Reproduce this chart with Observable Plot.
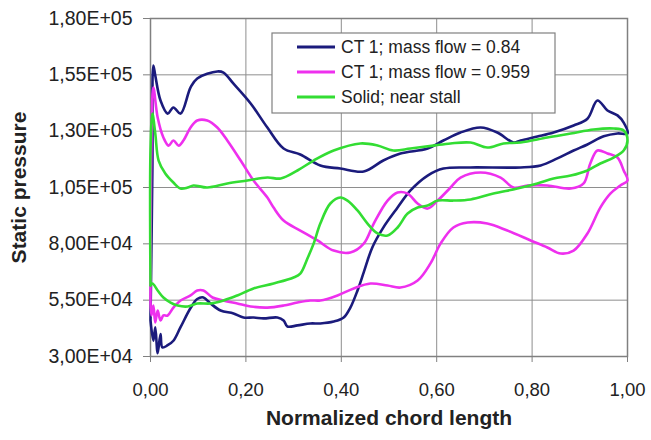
<!DOCTYPE html>
<html><head><meta charset="utf-8">
<script src="https://cdn.jsdelivr.net/npm/d3@7"></script>
<script src="https://cdn.jsdelivr.net/npm/@observablehq/plot@0.6"></script>
<style>body{margin:0;background:#fff;}</style>
</head><body><div id="chart"></div>
<script>
const seriesNames = ["CT 1; mass flow = 0.84", "CT 1; mass flow = 0.959", "Solid; near stall"];
const seriesColors = ["#1b1b7c", "#ee30ee", "#33dd33"];
const xTicks = [0, 0.2, 0.4, 0.6, 0.8, 1.0];
const yTicks = [30000, 55000, 80000, 105000, 130000, 155000, 180000];
const xTitle = "Normalized chord length";
const yTitle = "Static pressure";

// closed loops: lower surface LE->TE, then upper surface TE->LE
const ct084 = [
  [0,46000],[0.006,37000],[0.010,43000],[0.015,31500],[0.021,40000],[0.025,34000],[0.036,35000],
  [0.048,37000],[0.063,43000],[0.084,51500],[0.098,55500],[0.111,56200],[0.126,53500],[0.147,50400],
  [0.174,49100],[0.195,47300],[0.216,47300],[0.237,46900],[0.266,47300],[0.279,46000],[0.287,43300],
  [0.308,43800],[0.335,44650],[0.356,44650],[0.384,45500],[0.405,47300],[0.419,51700],[0.434,59300],
  [0.447,67300],[0.465,78400],[0.488,87200],[0.518,96100],[0.545,103700],[0.581,110300],[0.614,113400],
  [0.671,113900],[0.776,113900],[0.818,114800],[0.853,117900],[0.887,121400],[0.916,124100],
  [0.950,127700],[0.979,129000],[1.0,129000],
  [0.992,133800],[0.979,137000],[0.958,139200],[0.937,143600],[0.916,135500],[0.887,132500],
  [0.845,129400],[0.811,127600],[0.776,125850],[0.761,125000],[0.727,129400],[0.692,131600],
  [0.650,129400],[0.614,125850],[0.581,122300],[0.524,120100],[0.488,117000],[0.447,112100],
  [0.398,113400],[0.356,114750],[0.314,119650],[0.279,122300],[0.245,131600],[0.210,142300],
  [0.174,151100],[0.153,156000],[0.140,156500],[0.098,153400],[0.084,149400],[0.063,137800],
  [0.048,140500],[0.036,137800],[0.021,143600],[0.010,154700],[0.006,159100],[0.004,113900],[0,46000]
];
const ct0959 = [
  [0,54850],[0.002,48200],[0.006,52600],[0.010,45100],[0.015,50400],[0.021,45970],[0.027,48200],
  [0.036,48200],[0.048,51700],[0.063,54850],[0.084,57100],[0.098,59300],[0.111,59300],[0.130,56200],
  [0.153,54850],[0.182,53500],[0.210,52200],[0.245,51700],[0.279,52600],[0.308,53950],[0.335,54850],
  [0.356,54850],[0.392,57100],[0.426,60200],[0.461,62400],[0.497,61500],[0.524,60600],[0.560,63700],
  [0.587,71300],[0.608,80100],[0.635,87250],[0.665,89450],[0.706,89000],[0.748,85900],[0.797,81500],
  [0.832,78400],[0.860,75700],[0.887,77000],[0.916,84600],[0.943,96100],[0.964,102300],[0.985,105900],
  [1.0,108100],
  [0.992,112550],[0.979,118300],[0.958,120100],[0.937,121400],[0.922,115650],[0.908,106800],
  [0.881,104550],[0.832,105900],[0.790,105900],[0.761,105000],[0.734,109400],[0.692,111650],
  [0.650,109400],[0.629,105000],[0.602,99200],[0.581,95650],[0.560,97900],[0.539,102300],
  [0.518,102800],[0.497,99200],[0.468,89000],[0.447,80100],[0.419,76150],[0.384,77000],[0.350,81500],
  [0.314,85900],[0.279,90350],[0.258,96100],[0.245,100550],[0.216,108100],[0.189,116970],
  [0.161,125850],[0.140,131600],[0.119,134730],[0.098,134730],[0.084,131600],[0.069,125850],
  [0.059,123600],[0.048,125850],[0.038,123600],[0.027,127200],[0.015,136050],[0.006,149400],
  [0.002,125000],[0,54850]
];
const solidStall = [
  [0,61500],[0.004,62400],[0.015,59300],[0.027,56200],[0.042,53950],[0.057,52600],[0.078,52200],
  [0.098,53500],[0.126,53500],[0.153,54850],[0.182,57100],[0.216,60200],[0.258,62400],[0.300,65050],
  [0.314,66800],[0.329,73500],[0.342,80100],[0.356,89000],[0.377,97900],[0.398,100550],[0.413,99200],
  [0.434,94800],[0.455,89000],[0.476,84600],[0.497,83700],[0.518,87250],[0.539,93450],[0.560,96100],
  [0.581,97000],[0.602,99200],[0.635,99200],[0.671,99700],[0.719,102300],[0.769,104550],[0.811,106800],
  [0.845,109000],[0.881,110300],[0.916,112550],[0.943,115650],[0.971,118300],[0.992,121400],
  [1.0,125850],
  [0.992,130300],[0.971,131200],[0.929,130750],[0.881,128950],[0.832,127200],[0.776,124950],
  [0.740,124550],[0.706,122750],[0.671,124950],[0.629,124550],[0.593,123600],[0.545,122300],
  [0.509,121400],[0.476,123650],[0.440,124550],[0.384,121400],[0.342,116970],[0.308,112550],
  [0.273,109000],[0.245,109450],[0.203,108100],[0.161,106800],[0.119,105000],[0.090,105900],
  [0.078,105000],[0.063,104550],[0.048,107200],[0.031,111200],[0.017,116970],[0.010,128950],
  [0.004,137800],[0,121400],[0,61500]
];

const loops = [ct084, ct0959, solidStall];
const rows = loops.flatMap((pts, i) => pts.map(([x, y]) => ({series: seriesNames[i], x, y})));

const fmtY = v => {
  const e = Math.floor(Math.log10(v) + 1e-9);
  const m = v / Math.pow(10, e);
  return m.toFixed(2).replace(".", ",") + "E+" + String(e).padStart(2, "0");
};
const fmtX = v => v.toFixed(2).replace(".", ",");
const font = "'Liberation Sans', Arial, sans-serif";

const chart = Plot.plot({
  width: 651, height: 440,
  marginLeft: 150, marginRight: 24, marginTop: 18, marginBottom: 84,
  style: {fontFamily: font, background: "#fff", color: "#222"},
  x: {domain: [0, 1]},
  y: {domain: [30000, 180000]},
  color: {domain: seriesNames, range: seriesColors},
  marks: [
    Plot.gridX(xTicks, {stroke: "#8e8e8e", strokeOpacity: 1}),
    Plot.gridY(yTicks, {stroke: "#8e8e8e", strokeOpacity: 1}),
    Plot.frame({stroke: "#808080", strokeWidth: 1.5}),
    Plot.axisY(yTicks, {tickSize: 7, tickPadding: 11, tickFormat: fmtY, fontSize: 19.5, label: null, stroke: "#808080"}),
    Plot.axisX(xTicks, {tickSize: 6, tickPadding: 20, tickFormat: fmtX, fontSize: 18.5, label: null, stroke: "#808080"}),
    Plot.line(rows, {x: "x", y: "y", z: "series", stroke: "series", strokeWidth: 2.6, curve: "catmull-rom"}),
    Plot.text([xTitle], {frameAnchor: "bottom", dy: 68, fontWeight: "bold", fontSize: 21, fill: "#222"}),
    Plot.text([yTitle], {frameAnchor: "left", dx: -131, rotate: -90, textAnchor: "middle", fontWeight: "bold", fontSize: 21, fill: "#222"})
  ]
});
document.getElementById("chart").appendChild(chart);

// legend box
const svg = d3.select(chart);
const lg = svg.append("g").attr("font-family", font).attr("font-size", 17.5)
  .attr("fill", "#222").attr("text-anchor", "start");
lg.append("rect").attr("x", 272).attr("y", 33).attr("width", 283).attr("height", 80)
  .attr("fill", "#fff").attr("stroke", "#808080").attr("stroke-width", 1.2);
seriesNames.forEach((name, i) => {
  const cy = 47 + i * 25;
  lg.append("line").attr("x1", 297).attr("x2", 335).attr("y1", cy).attr("y2", cy)
    .attr("stroke", seriesColors[i]).attr("stroke-width", 3);
  lg.append("text").attr("x", 341).attr("y", cy).attr("dy", "0.35em").text(name);
});
</script>
</body></html>
